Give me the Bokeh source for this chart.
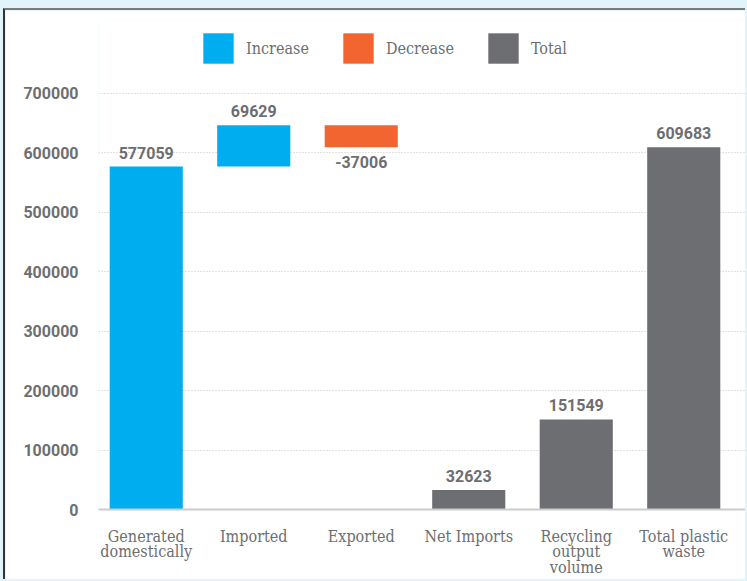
from bokeh.plotting import figure
from bokeh.models import (Range1d, FixedTicker, Legend, LegendItem, ColumnDataSource,
                          CDSView, GroupFilter)
from bokeh.layouts import column
from bokeh.core.properties import value
from bokeh.embed import file_html
from bokeh.resources import INLINE

# ---- data ----
categories = ["Generated\ndomestically", "Imported", "Exported", "Net Imports",
              "Recycling\noutput\nvolume", "Total plastic\nwaste"]
values = [577059, 69629, -37006, 32623, 151549, 609683]
kinds = ["Increase", "Increase", "Decrease", "Total", "Total", "Total"]
y_ticks = [0, 100000, 200000, 300000, 400000, 500000, 600000, 700000]

colors = {"Increase": "#00aeef", "Decrease": "#f26531", "Total": "#6d6e71"}

# waterfall geometry
bottoms, tops = [], []
running = 0
for v, k in zip(values, kinds):
    if k == "Total":
        bottoms.append(0)
        tops.append(v)
    else:
        start = running
        running += v
        bottoms.append(min(start, running))
        tops.append(max(start, running))

xs = list(range(len(categories)))
src = ColumnDataSource(dict(x=xs, bottom=bottoms, top=tops, kind=kinds))

TEXT = "#6d6e71"
SANS = "Roboto"
SLAB = "DejaVu Serif Condensed"

# frame extends up to leave room for the legend inside it
p = figure(width=742, height=571, output_backend="svg", toolbar_location=None,
           x_range=Range1d(-0.444, 5.593), y_range=Range1d(0, 822800),
           min_border_left=93, min_border_top=10, min_border_bottom=72, min_border_right=0,
           margin=(8, 0, 0, 3),
           styles={"border-top": "2px solid #7a7a7a", "border-left": "2px solid #333333"},
           background_fill_color="white", border_fill_color="white")
p.outline_line_color = None

renderers = {}
for k in ["Increase", "Decrease", "Total"]:
    view = CDSView(filter=GroupFilter(column_name="kind", group=k))
    renderers[k] = p.vbar(x="x", bottom="bottom", top="top", width=0.68, source=src,
                          view=view, fill_color=colors[k], line_color=None)

# value labels
up_idx = [i for i, k in enumerate(kinds) if k != "Decrease"]
dn_idx = [i for i, k in enumerate(kinds) if k == "Decrease"]
up_src = ColumnDataSource(dict(x=[xs[i] for i in up_idx], y=[tops[i] for i in up_idx],
                               t=[str(values[i]) for i in up_idx]))
dn_src = ColumnDataSource(dict(x=[xs[i] for i in dn_idx], y=[bottoms[i] for i in dn_idx],
                               t=[str(values[i]) for i in dn_idx]))
p.text(x="x", y="y", text="t", source=up_src, text_align="center", text_baseline="bottom",
       y_offset=-8, text_font=value(SANS), text_font_style="bold", text_font_size="16px",
       text_color=TEXT)
p.text(x="x", y="y", text="t", source=dn_src, text_align="center", text_baseline="top",
       y_offset=9, text_font=value(SANS), text_font_style="bold", text_font_size="16px",
       text_color=TEXT)

# axes
p.xaxis.ticker = FixedTicker(ticks=xs)
p.xaxis.major_label_overrides = {x: c for x, c in zip(xs, categories)}
p.xaxis.major_label_text_font = SLAB
p.xaxis.major_label_text_font_size = "16px"
p.xaxis.major_label_text_color = TEXT
p.xaxis.major_label_text_line_height = 0.82
p.xaxis.major_label_standoff = 11
p.xaxis.major_tick_line_color = None
p.xaxis.minor_tick_line_color = None
p.xaxis.axis_line_color = "#cccccc"
p.xaxis.axis_line_width = 2

p.yaxis.ticker = FixedTicker(ticks=y_ticks)
p.yaxis.major_label_overrides = {t: str(t) for t in y_ticks}
p.yaxis.major_label_text_font = SANS
p.yaxis.major_label_text_font_style = "bold"
p.yaxis.major_label_text_font_size = "16px"
p.yaxis.major_label_text_color = TEXT
p.yaxis.major_label_standoff = 14
p.yaxis.major_tick_line_color = None
p.yaxis.minor_tick_line_color = None
p.yaxis.axis_line_color = None

p.xgrid.grid_line_color = None
p.ygrid.grid_line_color = "#c4c4c4"
p.ygrid.grid_line_dash = "1 2"
p.ygrid.grid_line_width = 1

legend = Legend(items=[LegendItem(label=k, renderers=[renderers[k]]) for k in ["Increase", "Decrease", "Total"]],
                orientation="horizontal", location=(101, 442),
                glyph_width=38, glyph_height=38, label_standoff=9, spacing=30,
                padding=0, margin=0, border_line_color=None, background_fill_alpha=0,
                label_text_font=SLAB, label_text_font_size="16px", label_text_color=TEXT)
p.add_layout(legend, "center")

root = column(p, width=747, height=581, styles={"background-color": "#e0f4fa"})

open("out.html", "w").write(file_html(root, INLINE))
